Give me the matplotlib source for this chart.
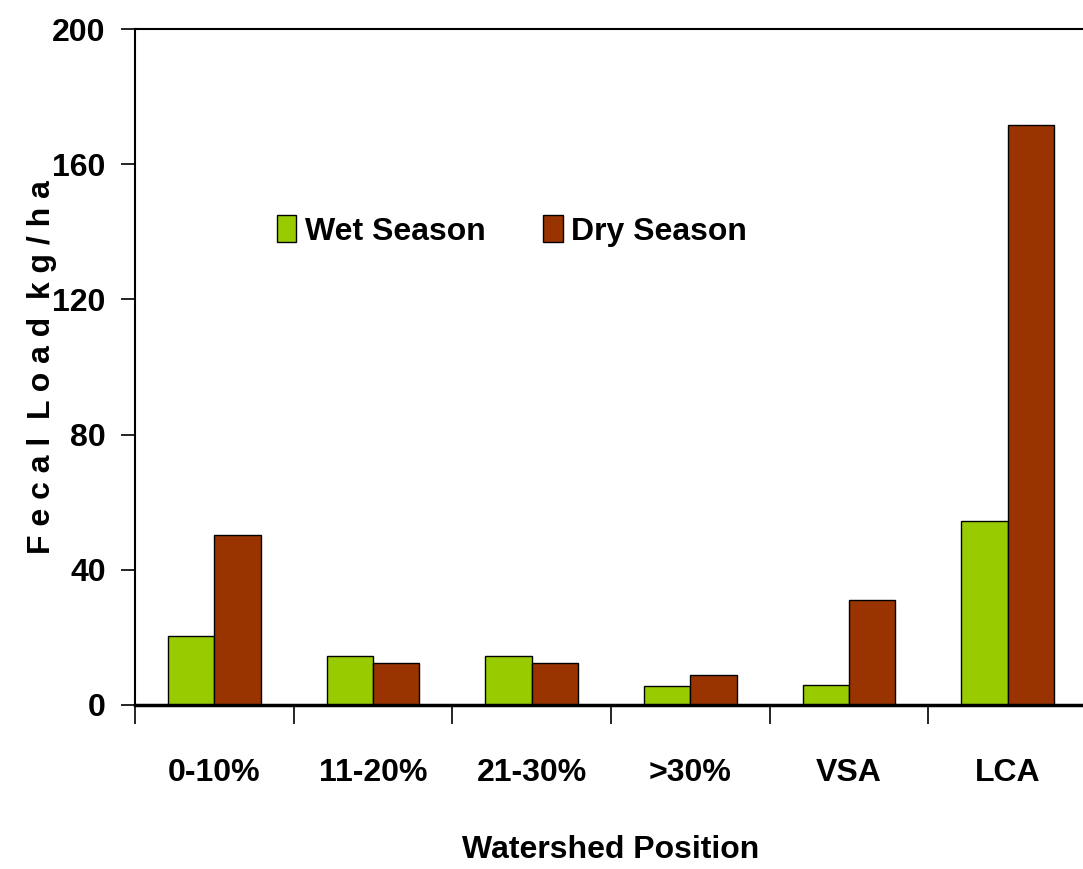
import matplotlib
matplotlib.use("Agg")
import matplotlib.pyplot as plt
import numpy as np
from matplotlib.patches import Patch

categories = ["0-10%", "11-20%", "21-30%", ">30%", "VSA", "LCA"]
wet_season = [20.5, 14.5, 14.4, 5.6, 6.0, 54.3]
dry_season = [50.2, 12.5, 12.3, 8.8, 31.0, 171.7]
y_ticks = [0, 40, 80, 120, 160, 200]

WET = "#99CC00"
DRY = "#993300"
FS = 23

plt.rcParams["font.family"] = ["Liberation Sans", "DejaVu Sans"]
plt.rcParams["font.weight"] = "bold"

fig = plt.figure(figsize=(10.83, 8.69), dpi=100)
ax = fig.add_axes([135 / 1083, 1 - 705 / 869, 952 / 1083, 676 / 869])

x = np.arange(len(categories))
w = 0.292
ax.bar(x - w / 2, wet_season, w, color=WET, edgecolor="black", linewidth=1.0,
       label="Wet Season", zorder=2)
ax.bar(x + w / 2, dry_season, w, color=DRY, edgecolor="black", linewidth=1.0,
       label="Dry Season", zorder=2)

ax.set_xlim(-0.5, len(categories) - 0.5)
ax.set_ylim(0, 200)
ax.set_yticks(y_ticks)
ax.tick_params(axis="y", length=10, width=1.2, pad=11, labelsize=FS)

# category boundaries carry the tick marks, labels sit at the centres
ax.set_xticks(np.arange(len(categories) + 1) - 0.5)
ax.set_xticklabels([])
ax.set_xticks(x, minor=True)
ax.set_xticklabels(categories, minor=True)
ax.tick_params(axis="x", which="major", length=14, width=1.2, direction="out")
ax.tick_params(axis="x", which="minor", length=0, pad=38, labelsize=FS)

for side in ("left", "top"):
    ax.spines[side].set_linewidth(1.5)
ax.spines["bottom"].set_linewidth(2.5)
ax.spines["right"].set_visible(False)

ax.set_xlabel("Watershed Position", fontsize=FS, fontweight="bold")
ax.xaxis.set_label_coords(0.5, -0.193)
ax.set_ylabel("F e c a l  L o a d  k g / h a", fontsize=FS, fontweight="bold")
ax.yaxis.set_label_coords(-0.082, 0.5)

handles = [Patch(facecolor=WET, edgecolor="black", linewidth=1.0),
           Patch(facecolor=DRY, edgecolor="black", linewidth=1.0)]
ax.legend(handles, ["Wet Season", "Dry Season"], loc="center left",
          bbox_to_anchor=(142 / 952, 0.701), ncol=2, frameon=False,
          fontsize=FS, borderpad=0, borderaxespad=0,
          handlelength=0.6, handleheight=0.9, handletextpad=0.28,
          columnspacing=1.8)

fig.savefig("out.png", dpi=100)
